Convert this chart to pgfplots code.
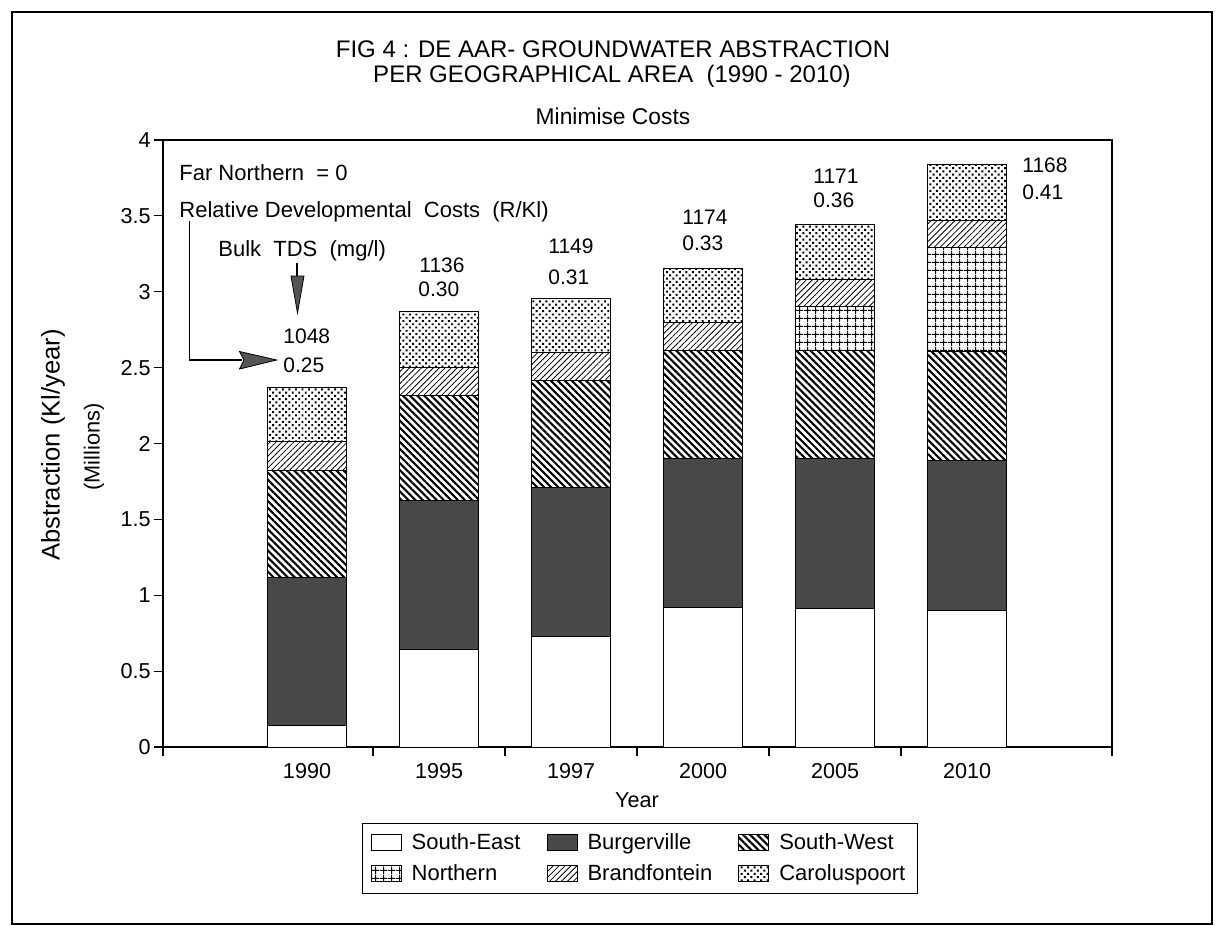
\documentclass[border=0pt]{standalone}
\usepackage{fontspec}
\setmainfont{Liberation Sans}
\usepackage{pgfplots}
\pgfplotsset{compat=1.18}
\usepackage{pgfplotstable}
\usetikzlibrary{patterns,patterns.meta}

\definecolor{burg}{RGB}{72,72,72}
\definecolor{arrowgray}{RGB}{85,85,85}

\pgfplotstableread{
x SE Burg SW North Brand Carol
0 0.145 0.975 0.705 0 0.185 0.36
1 0.64 0.985 0.69 0 0.185 0.37
2 0.727 0.986 0.70 0 0.186 0.356
3 0.918 0.982 0.71 0 0.19 0.356
4 0.913 0.987 0.71 0.29 0.184 0.356
5 0.90 0.99 0.715 0.685 0.178 0.372
}\data

\pgfplotsset{lgd/.style={legend image code/.code={\draw[##1,draw=black,line width=0.5pt] (0pt,-4pt) rectangle (15pt,4pt);}}}

\begin{document}
\begin{tikzpicture}
\useasboundingbox (0,0) rectangle (608pt,-463pt);
\begin{axis}[
  at={(81.5pt,-373.5pt)}, anchor=south west,
  scale only axis, width=474.5pt, height=303.5pt,
  xmin=-1.091, xmax=6.098, ymin=0, ymax=4,
  ybar stacked, bar width=0.6,
  axis line style={line width=0.65pt},
  tick style={line width=0.6pt, black},
  tick align=outside,
  major tick length=4.5pt,
  xtick pos=bottom, ytick pos=left,
  xtick={-1.091,0.5,1.5,2.5,3.5,4.5,6.098},
  xticklabels={},
  extra x ticks={0,1,2,3,4,5},
  extra x tick labels={1990,1995,1997,2000,2005,2010},
  extra x tick style={tick style={draw=none}},
  x tick label style={font=\fontsize{10.8}{13}\selectfont},
  ytick={0,0.5,1,1.5,2,2.5,3,3.5,4},
  y tick label style={font=\fontsize{10.8}{13}\selectfont, inner sep=1.5pt},
  /pgf/number format/assume math mode=true,
  legend columns=3,
  legend cell align=left,
  legend style={at={(0.5026,-0.125)}, anchor=north, draw=black, line width=0.6pt,
    font=\fontsize{11}{13}\selectfont, row sep=2pt, inner xsep=4pt, inner ysep=3pt,
    /tikz/every odd column/.append style={column sep=3pt},
    /tikz/every even column/.append style={column sep=11pt}},
]
\addplot[fill=white, draw=black, line width=0.5pt, lgd] table[x=x,y=SE]{\data};
\addlegendentry{South-East}
\addplot[fill=burg, draw=black, line width=0.5pt, lgd] table[x=x,y=Burg]{\data};
\addlegendentry{Burgerville}
\addplot[pattern={Lines[angle=-45,distance=2.5pt,line width=1.05pt]}, draw=black, line width=0.5pt, lgd] table[x=x,y=SW]{\data};
\addlegendentry{South-West}
\addplot[pattern={Hatch[angle=0,distance=4pt,line width=0.5pt]}, draw=black, line width=0.5pt, lgd] table[x=x,y=North]{\data};
\addlegendentry{Northern}
\addplot[pattern={Lines[angle=45,distance=2.1pt,line width=0.4pt]}, draw=black, line width=0.5pt, lgd] table[x=x,y=Brand]{\data};
\addlegendentry{Brandfontein}
\addplot[pattern={Dots[distance=2.3pt,radius=0.7pt,angle=45]}, draw=black, line width=0.5pt, lgd] table[x=x,y=Carol]{\data};
\addlegendentry{Caroluspoort}
\end{axis}

\begin{scope}[x=0.5pt,y=-0.5pt]
\draw[line width=0.8pt] (12,12) rectangle (1212,924);
\node[font=\fontsize{12}{14}\selectfont, anchor=base] at (613,57) {FIG 4 : DE AAR- GROUNDWATER ABSTRACTION};
\node[font=\fontsize{12}{14}\selectfont, anchor=base] at (612,83) {PER GEOGRAPHICAL AREA\ \ (1990 - 2010)};
\node[font=\fontsize{11.4}{13}\selectfont, anchor=base] at (613,124) {Minimise Costs};
\node[font=\fontsize{12.8}{15}\selectfont, rotate=90] at (53,445) {Abstraction (Kl/year)};
\node[font=\fontsize{10.9}{13}\selectfont, rotate=90] at (94,447) {(Millions)};
\node[font=\fontsize{10.8}{13}\selectfont, anchor=base] at (637,807) {Year};
% annotations
\begin{scope}[every node/.style={font=\fontsize{11}{13}\selectfont, anchor=base west, inner sep=0pt}]
\node at (179,180.5) {Far Northern\ \ = 0};
\node at (179,217.3) {Relative Developmental\ \ Costs\ \ (R/Kl)};
\node at (218,256.7) {Bulk\ \ TDS\ \ (mg/l)};
\end{scope}
\begin{scope}[every node/.style={font=\fontsize{10.5}{13}\selectfont, anchor=base west, inner sep=0pt}]
\node at (283,343.3) {1048};
\node at (283,372.7) {0.25};
\node at (419,272.7) {1136};
\node at (418,296.7) {0.30};
\node at (548,253.3) {1149};
\node at (548,284) {0.31};
\node at (682,224.3) {1174};
\node at (682,250) {0.33};
\node at (813,183.3) {1171};
\node at (813,207.3) {0.36};
\node at (1022,172.7) {1168};
\node at (1022,199.3) {0.41};
\end{scope}
% arrows
\draw[line width=0.6pt] (297,262.7) -- (297,278);
\filldraw[fill=arrowgray, draw=black, line width=0.4pt] (291,276) -- (304,276) -- (297.5,313) -- cycle;
\draw[line width=0.6pt] (189.3,221) -- (189.3,360) -- (242,360);
\filldraw[fill=arrowgray, draw=black, line width=0.4pt] (239.5,351.5) -- (276.7,360) -- (239.5,369) -- (244,360) -- cycle;
\end{scope}
\end{tikzpicture}
\end{document}
